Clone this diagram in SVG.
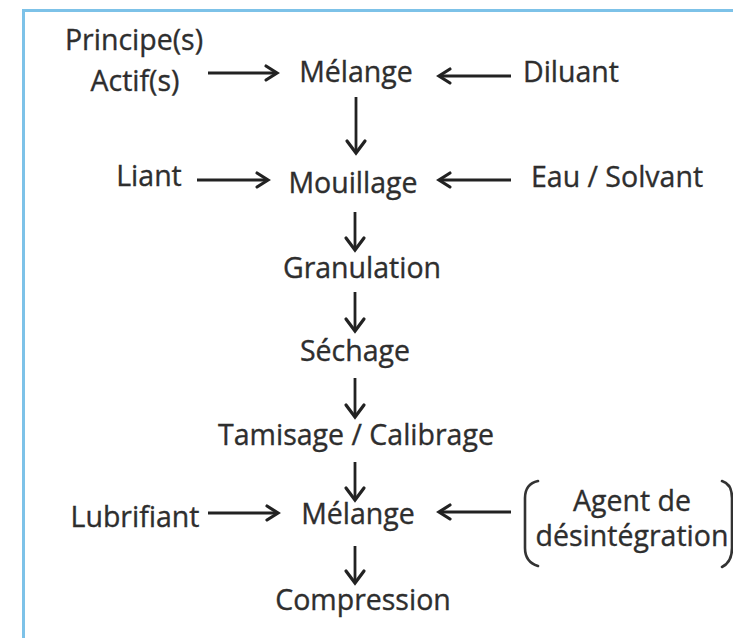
<svg xmlns="http://www.w3.org/2000/svg" width="733" height="638" viewBox="0 0 733 638">
  <style>
    .lbl { font-family: "Open Sans", "Liberation Sans", sans-serif; font-size: 28.5px; fill: #2e2e2e; stroke: #2e2e2e; stroke-width: 0.35; text-anchor: middle; }
    .shaft { stroke: #222; stroke-width: 3.2; fill: none; stroke-linecap: butt; }
    .vshaft { stroke: #222; stroke-width: 2.8; fill: none; }
    .head { stroke: #222; stroke-width: 3.2; fill: none; stroke-linecap: round; stroke-linejoin: miter; }
    .brace { stroke: #333; stroke-width: 2.6; fill: none; stroke-linecap: round; }
  </style>
  <rect x="0" y="0" width="733" height="638" fill="#ffffff"/>
  <!-- frame -->
  <rect x="23.5" y="10.5" width="730" height="640" fill="none" stroke="#7dc2e8" stroke-width="3"/>

  <!-- connectors -->
  <g id="connectors">
    <!-- Principe(s) Actif(s) -> Mélange -->
    <path class="shaft" d="M208 73 H275"/>
    <path class="head" d="M266 66 L277 73 L266 80"/>
    <!-- Diluant -> Mélange -->
    <path class="shaft" d="M511 76 H441"/>
    <path class="head" d="M450 69 L439 76 L450 83"/>
    <!-- Mélange -> Mouillage -->
    <path class="vshaft" d="M356 97 V152"/>
    <path class="head" d="M347 141 L356 153 L365 141"/>
    <!-- Liant -> Mouillage -->
    <path class="shaft" d="M197 180 H266"/>
    <path class="head" d="M257 173 L268 180 L257 187"/>
    <!-- Eau / Solvant -> Mouillage -->
    <path class="shaft" d="M511 180 H441"/>
    <path class="head" d="M450 173 L439 180 L450 187"/>
    <!-- Mouillage -> Granulation -->
    <path class="vshaft" d="M355 212 V249"/>
    <path class="head" d="M346 238 L355 250 L364 238"/>
    <!-- Granulation -> Séchage -->
    <path class="vshaft" d="M355 292 V330"/>
    <path class="head" d="M346 319 L355 331 L364 319"/>
    <!-- Séchage -> Tamisage / Calibrage -->
    <path class="vshaft" d="M355 378 V416"/>
    <path class="head" d="M346 405 L355 417 L364 405"/>
    <!-- Tamisage / Calibrage -> Mélange -->
    <path class="vshaft" d="M355 462 V499"/>
    <path class="head" d="M346 488 L355 500 L364 488"/>
    <!-- Lubrifiant -> Mélange -->
    <path class="shaft" d="M208 513 H276"/>
    <path class="head" d="M267 506 L278 513 L267 520"/>
    <!-- Agent de désintégration -> Mélange -->
    <path class="shaft" d="M511 512 H441"/>
    <path class="head" d="M450 505 L439 512 L450 519"/>
    <!-- Mélange -> Compression -->
    <path class="vshaft" d="M355 546 V582"/>
    <path class="head" d="M346 571 L355 583 L364 571"/>
  </g>

  <g id="principes">
    <text class="lbl" x="134" y="50">Principe(s)</text>
    <text class="lbl" x="135" y="91">Actif(s)</text>
  </g>
  <g id="melange1"><text class="lbl" x="356" y="82">Mélange</text></g>
  <g id="diluant"><text class="lbl" x="571" y="82">Diluant</text></g>
  <g id="liant"><text class="lbl" x="149" y="186">Liant</text></g>
  <g id="mouillage"><text class="lbl" x="353" y="193">Mouillage</text></g>
  <g id="eau-solvant"><text class="lbl" x="617" y="187">Eau / Solvant</text></g>
  <g id="granulation"><text class="lbl" x="362" y="278">Granulation</text></g>
  <g id="sechage"><text class="lbl" x="355" y="361">Séchage</text></g>
  <g id="tamisage"><text class="lbl" x="356" y="445">Tamisage / Calibrage</text></g>
  <g id="lubrifiant"><text class="lbl" x="135" y="527">Lubrifiant</text></g>
  <g id="melange2"><text class="lbl" x="358" y="524">Mélange</text></g>
  <g id="agent">
    <path class="brace" d="M538 481 Q525 484 525 498 V548 Q525 562 538 566"/>
    <path class="brace" d="M722 481 Q732 484 732 498 V548 Q732 562 722 567"/>
    <text class="lbl" x="632" y="511">Agent de</text>
    <text class="lbl" x="632" y="546">désintégration</text>
  </g>
  <g id="compression"><text class="lbl" x="363" y="610">Compression</text></g>
</svg>
